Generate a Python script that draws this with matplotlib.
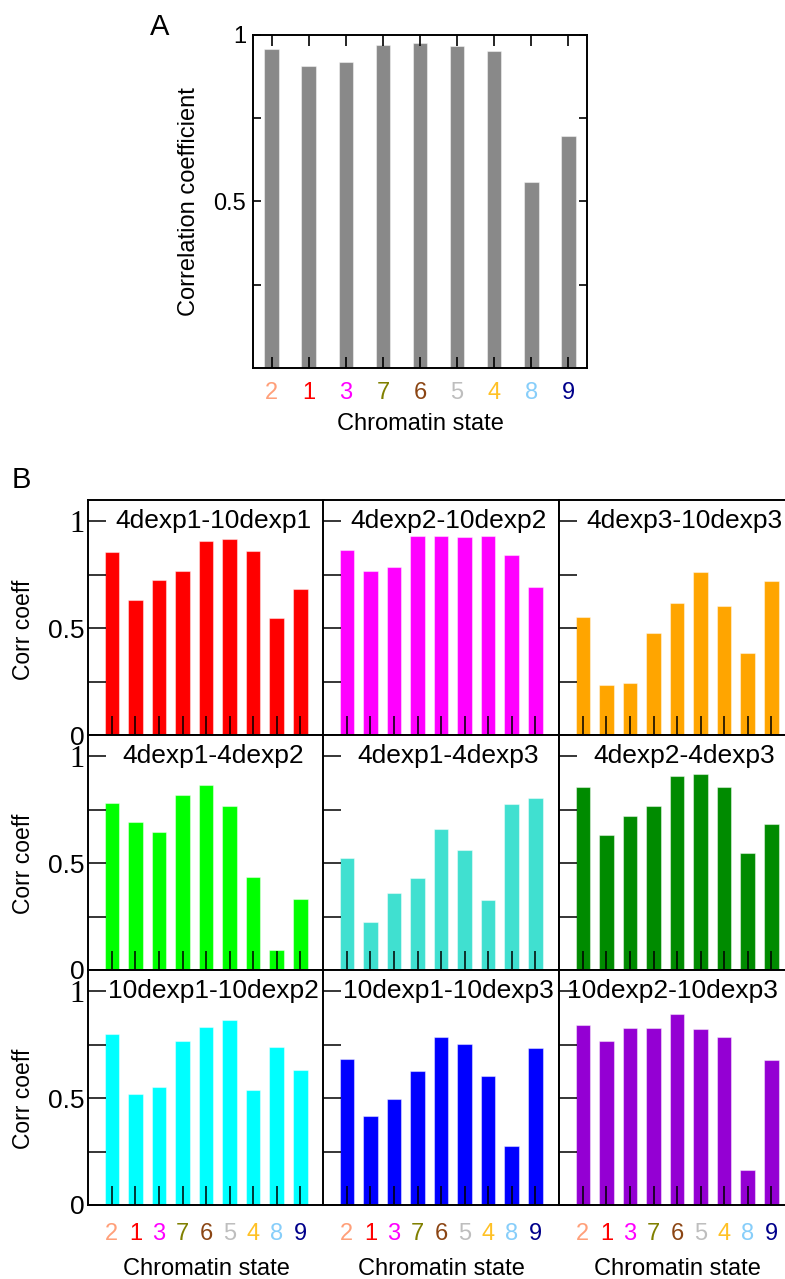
import numpy as np
import matplotlib
matplotlib.use("Agg")
import matplotlib.pyplot as plt

plt.rcParams['font.family'] = ['Liberation Sans', 'DejaVu Sans']

# Datos
estados = ['2', '1', '3', '7', '6', '5', '4', '8', '9']
colores_estado = ['#FFA07A', '#FF0000', '#FF00FF', '#808000', '#8B4513',
                  '#BEBEBE', '#FFC125', '#87CEFA', '#00008B']

corr_a = [0.958, 0.907, 0.918, 0.971, 0.975, 0.966, 0.951, 0.557, 0.695]

titulos_b = ['4dexp1-10dexp1', '4dexp2-10dexp2', '4dexp3-10dexp3',
             '4dexp1-4dexp2', '4dexp1-4dexp3', '4dexp2-4dexp3',
             '10dexp1-10dexp2', '10dexp1-10dexp3', '10dexp2-10dexp3']
colores_b = ['#FF0000', '#FF00FF', '#FFA500',
             '#00FF00', '#40E0D0', '#008B00',
             '#00FFFF', '#0000FF', '#9400D3']
corr_b = [
    [0.859, 0.630, 0.727, 0.770, 0.909, 0.916, 0.863, 0.550, 0.684],
    [0.867, 0.770, 0.786, 0.930, 0.933, 0.928, 0.934, 0.841, 0.694],
    [0.553, 0.234, 0.245, 0.480, 0.617, 0.764, 0.605, 0.386, 0.719],
    [0.784, 0.695, 0.647, 0.820, 0.867, 0.766, 0.437, 0.094, 0.333],
    [0.525, 0.227, 0.362, 0.433, 0.661, 0.563, 0.328, 0.775, 0.806],
    [0.858, 0.630, 0.723, 0.769, 0.908, 0.916, 0.859, 0.548, 0.683],
    [0.801, 0.520, 0.551, 0.766, 0.831, 0.868, 0.539, 0.739, 0.630],
    [0.685, 0.416, 0.495, 0.626, 0.787, 0.755, 0.602, 0.278, 0.736],
    [0.843, 0.766, 0.828, 0.829, 0.896, 0.822, 0.787, 0.164, 0.677],
]

x = np.arange(1, len(estados) + 1)
borde = (1, 1, 1, 0.45)

fig = plt.figure(figsize=(7.85, 12.79), dpi=100)

# Panel A
ax = fig.add_axes([0.3223, 0.7123, 0.4255, 0.2604])
ax.bar(x, corr_a, width=0.39, color='#898989', edgecolor=borde, linewidth=0.8)
ax.set_xlim(0.5, 9.5)
ax.set_ylim(0, 1)
ax.set_yticks([0.25, 0.5, 0.75, 1.0])
ax.set_yticklabels(['', '0.5', '', '1'])
ax.set_xticks(x)
etiquetas = ax.set_xticklabels(estados)
for lbl, c in zip(etiquetas, colores_estado):
    lbl.set_color(c)
ax.tick_params(axis='y', direction='in', length=6, width=1.2, right=True,
               labelsize=17, pad=5)
ax.tick_params(axis='x', direction='in', length=8, width=1.2, top=True,
               labelsize=17, pad=10)
for s in ax.spines.values():
    s.set_linewidth(1.4)
ax.set_ylabel('Correlation coefficient', fontsize=17)
ax.yaxis.set_label_coords(-0.159, 0.5)
ax.set_xlabel('Chromatin state', fontsize=17)
ax.xaxis.set_label_coords(0.5, -0.135)
fig.text(0.191, 0.9726, 'A', fontsize=21, va='baseline')

# Panel B
izq = [0.1125, 0.4119, 0.7125]
abajo = [0.4253, 0.2416, 0.0579]
pos_titulo = [0.53, 0.53, 0.53, 0.53, 0.53, 0.53, 0.53, 0.53, 0.48]
for i in range(9):
    fila, col = divmod(i, 3)
    ax = fig.add_axes([izq[col], abajo[fila], 0.3, 0.1837])
    ax.bar(x, corr_b[i], width=0.62, color=colores_b[i], edgecolor=borde,
           linewidth=0.8)
    ax.set_xlim(0, 10)
    ax.set_ylim(0, 1.1)
    ax.set_yticks([0, 0.25, 0.5, 0.75, 1.0])
    ax.set_xticks(x)
    ax.tick_params(axis='y', direction='in', length=13, width=1.1, labelsize=19, pad=3)
    ax.tick_params(axis='x', direction='in', length=13.5, width=1.1, labelsize=17, pad=13)
    for s in ax.spines.values():
        s.set_linewidth(1.4)
    ax.spines['right'].set_visible(col < 2)
    ax.text(pos_titulo[i], 1.0, titulos_b[i], transform=ax.get_yaxis_transform(),
            ha='center', va='center', fontsize=19)
    if col == 0:
        ax.set_yticklabels(['0', '', '0.5', '', '1'])
        tick_uno = ax.yaxis.get_major_ticks()[4]
        tick_uno.label1.set_fontfamily(['Liberation Serif', 'DejaVu Serif'])
        tick_uno.label1.set_fontsize(22)
        ax.set_ylabel('Corr coeff', fontsize=16.5)
        ax.yaxis.set_label_coords(-0.226, 0.45)
    else:
        ax.set_yticklabels([])
    if fila == 2:
        etiquetas = ax.set_xticklabels(estados)
        for lbl, c in zip(etiquetas, colores_estado):
            lbl.set_color(c)
        ax.set_xlabel('Chromatin state', fontsize=17)
        ax.xaxis.set_label_coords(0.5, -0.225)
    else:
        ax.set_xticklabels([])

fig.text(0.0153, 0.6185, 'B', fontsize=21, va='baseline')

fig.savefig('out.png', dpi=100)
